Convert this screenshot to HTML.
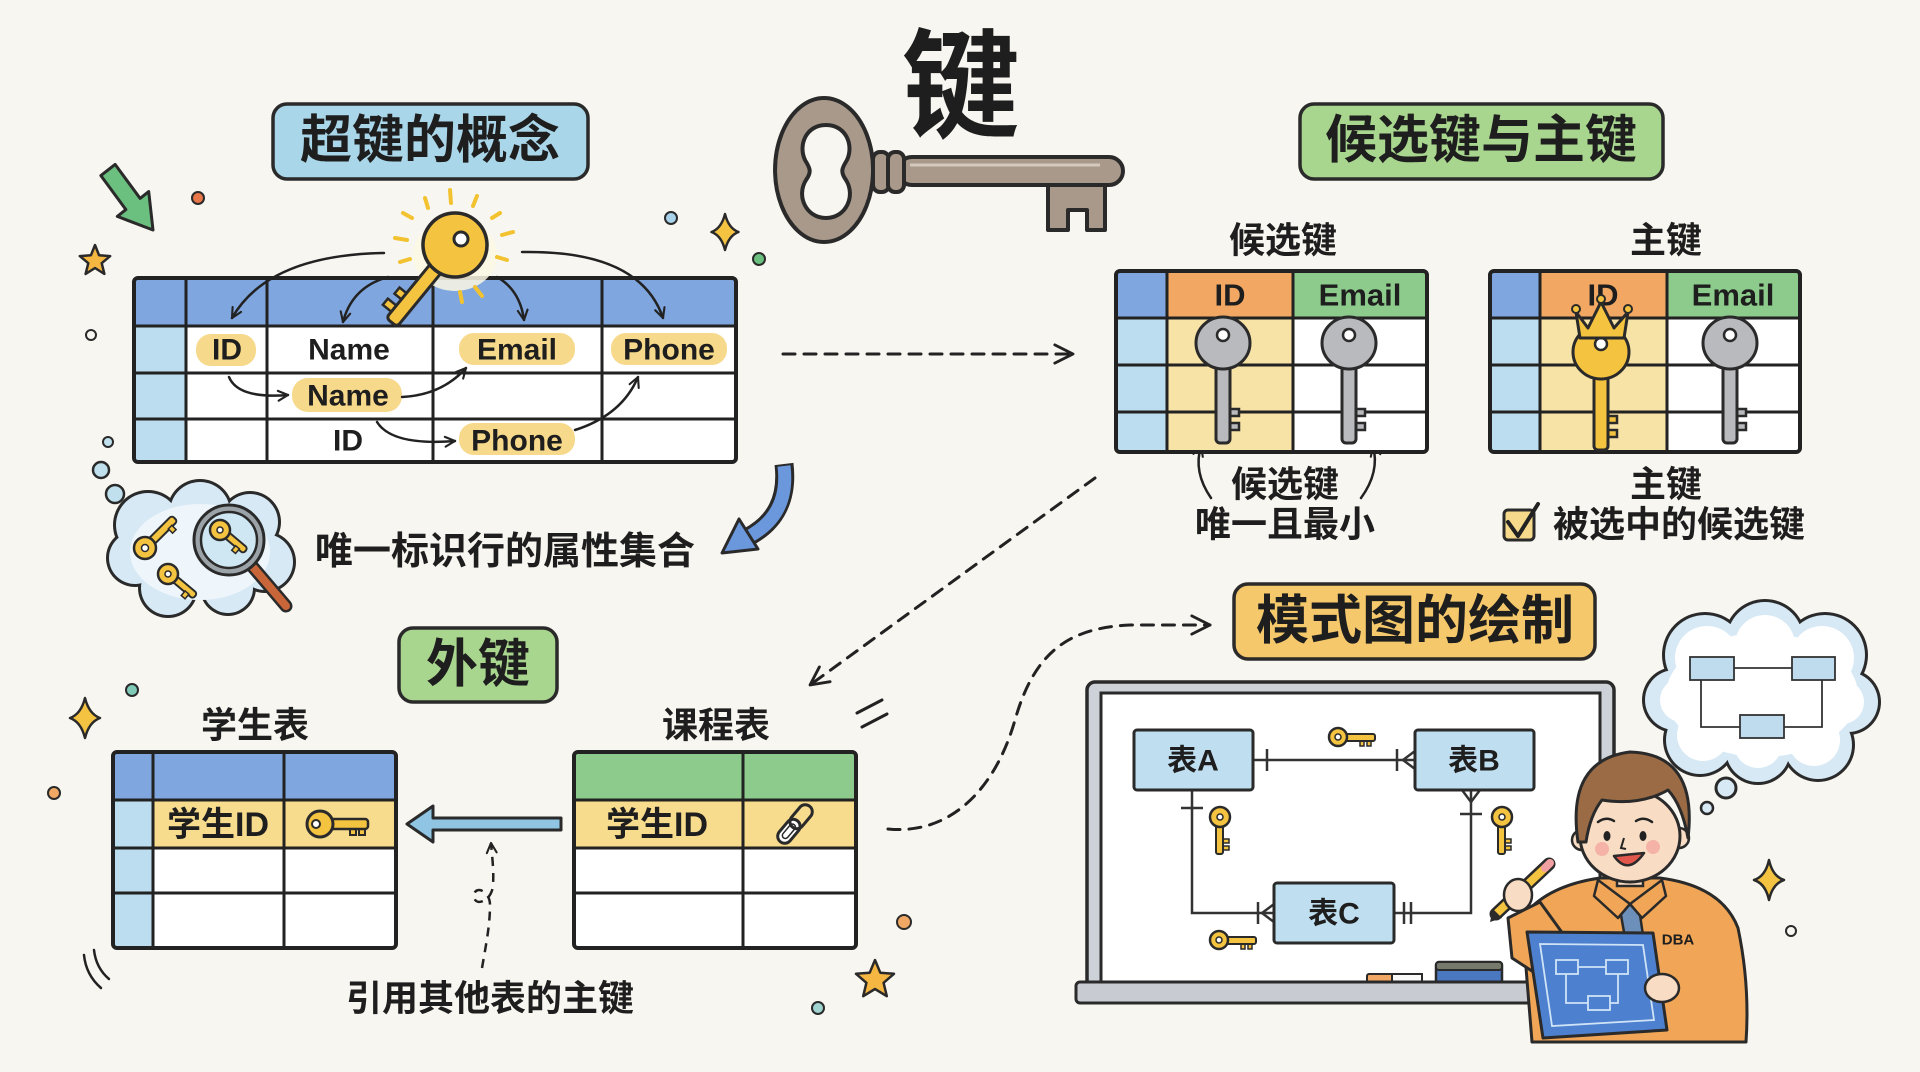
<!DOCTYPE html>
<html><head><meta charset="utf-8">
<style>
html,body{margin:0;padding:0;background:#f8f6f0;}
svg{display:block}
text{font-family:"Liberation Sans","Noto Sans CJK SC",sans-serif;font-weight:700;fill:#1e1e1e}
</style></head><body>
<svg width="1920" height="1072" viewBox="0 0 1920 1072" xmlns="http://www.w3.org/2000/svg">
<defs>
<marker id="ah" viewBox="0 0 20 20" refX="17" refY="10" markerWidth="14" markerHeight="14" orient="auto" markerUnits="userSpaceOnUse"><path d="M3,3 L17,10 L3,17" fill="none" stroke="#222" stroke-width="3" stroke-linecap="round" stroke-linejoin="round"/></marker>
<marker id="ahb" viewBox="0 0 20 20" refX="17" refY="10" markerWidth="26" markerHeight="26" orient="auto" markerUnits="userSpaceOnUse"><path d="M3,3 L17,10 L3,17" fill="none" stroke="#222" stroke-width="2.2" stroke-linecap="round" stroke-linejoin="round"/></marker>
</defs>
<rect width="1920" height="1072" fill="#f8f6f0"/>

<!-- Big title 键 and key -->
<text x="961" y="88" font-size="118" text-anchor="middle" dominant-baseline="central">键</text>
<path d="M824 98 A49 72 0 1 0 824.1 98 Z M826 125 C806 125 798 145 805 160 C810 168 812 172 806 180 C796 196 806 218 826 218 C846 218 856 196 846 180 C840 172 842 168 847 160 C854 145 846 125 826 125 Z" fill="#a8998a" fill-rule="evenodd" stroke="#2a2a2a" stroke-width="4"/>
<path d="M1048 180 L1105 180 L1105 230 L1087 230 L1087 210 L1068 210 L1068 230 L1048 230 Z" fill="#a8998a" stroke="#2a2a2a" stroke-width="4" stroke-linejoin="round"/>
<rect x="898" y="157" width="225" height="28" rx="14" fill="#a8998a" stroke="#2a2a2a" stroke-width="4"/>
<line x1="910" y1="165" x2="1100" y2="165" stroke="#d4c9bc" stroke-width="3"/>
<rect x="873" y="152" width="16" height="40" rx="7" fill="#a8998a" stroke="#2a2a2a" stroke-width="4"/>
<rect x="888" y="152" width="16" height="40" rx="7" fill="#a8998a" stroke="#2a2a2a" stroke-width="4"/>

<!-- Title: 超键的概念 -->
<rect x="273" y="104" width="315" height="75" rx="14" fill="#a9d6e9" stroke="#2a2a2a" stroke-width="3.5"/>
<text x="430" y="141" font-size="52" text-anchor="middle" dominant-baseline="central">超键的概念</text>

<!-- decorations top-left -->
<polygon points="115.1,164.4 140.1,198.4 148.7,191.6 153,230 117.3,216.4 125.9,209.6 100.9,175.6" fill="#6cc07f" stroke="#2a2a2a" stroke-width="3" stroke-linejoin="round"/>
<circle cx="198" cy="198" r="6" fill="#e8774a" stroke="#2a2a2a" stroke-width="2"/>
<path d="M95 245 L99.1 255.3 L110.2 256.1 L101.7 263.2 L104.4 273.9 L95 268 L85.6 273.9 L88.3 263.2 L79.8 256.1 L90.9 255.3 Z" fill="#f5b642" stroke="#2a2a2a" stroke-width="2.5" stroke-linejoin="round"/>
<circle cx="91" cy="335" r="5" fill="none" stroke="#2a2a2a" stroke-width="2"/>
<circle cx="671" cy="218" r="6" fill="#a9d3ea" stroke="#2a2a2a" stroke-width="2"/>
<circle cx="759" cy="259" r="6" fill="#6cc07f" stroke="#2a2a2a" stroke-width="2"/>
<path d="M725 214 Q728.6 228.4 738.5 232 Q728.6 235.6 725 250 Q721.4 235.6 711.5 232 Q721.4 228.4 725 214 Z" fill="#f5c342" stroke="#2a2a2a" stroke-width="2.5" stroke-linejoin="round"/>

<!-- Table 1 -->
<rect x="134" y="278" width="602" height="184" fill="#ffffff"/>
<rect x="134" y="278" width="602" height="48" fill="#7fa6de"/>
<rect x="134" y="326" width="52" height="136" fill="#bcdcef"/>
<g stroke="#222" stroke-width="3">
<line x1="134" y1="326" x2="736" y2="326"/><line x1="134" y1="373" x2="736" y2="373"/><line x1="134" y1="419" x2="736" y2="419"/>
<line x1="186" y1="278" x2="186" y2="462"/><line x1="267" y1="278" x2="267" y2="462"/><line x1="433" y1="278" x2="433" y2="462"/><line x1="602" y1="278" x2="602" y2="462"/>
</g>
<rect x="134" y="278" width="602" height="184" rx="4" fill="none" stroke="#222" stroke-width="4"/>
<g fill="#f6d98a">
<rect x="196" y="334" width="60" height="32" rx="15"/>
<rect x="459" y="333" width="116" height="32" rx="15"/>
<rect x="611" y="333" width="116" height="32" rx="15"/>
<rect x="292" y="378" width="110" height="34" rx="16"/>
<rect x="459" y="423" width="116" height="32" rx="15"/>
</g>
<g font-size="30" text-anchor="middle" dominant-baseline="central">
<text x="227" y="350">ID</text>
<text x="349" y="350">Name</text>
<text x="517" y="350">Email</text>
<text x="669" y="350">Phone</text>
<text x="348" y="396">Name</text>
<text x="348" y="441">ID</text>
<text x="517" y="441">Phone</text>
</g>
<g fill="none" stroke="#222" stroke-width="2.5" stroke-linecap="round" marker-end="url(#ah)">
<path d="M229 377 Q238 399 288 395"/>
<path d="M402 397 Q442 395 466 368"/>
<path d="M377 422 Q392 446 455 441"/>
<path d="M575 430 Q622 415 638 377"/>
<path d="M384 253 Q268 255 232 318"/>
<path d="M388 277 Q352 287 343 322"/>
<path d="M497 277 Q520 290 524 320"/>
<path d="M522 252 Q640 250 663 318"/>
</g>
<!-- golden key -->
<ellipse cx="455" cy="255" rx="42" ry="36" fill="#fdf8e4" opacity="0.85"/>
<g stroke="#f2c230" stroke-width="4" stroke-linecap="round">
<line x1="450" y1="190" x2="451" y2="203"/><line x1="425" y1="198" x2="428" y2="208"/><line x1="477" y1="196" x2="473" y2="206"/>
<line x1="403" y1="213" x2="412" y2="218"/><line x1="500" y1="213" x2="492" y2="218"/><line x1="395" y1="238" x2="407" y2="240"/>
<line x1="513" y1="232" x2="502" y2="235"/><line x1="400" y1="262" x2="410" y2="259"/><line x1="507" y1="260" x2="497" y2="257"/>
<line x1="460" y1="292" x2="462" y2="302"/><line x1="475" y1="287" x2="482" y2="296"/>
</g>
<g transform="translate(455,245) rotate(129.3)">
<rect x="68" y="5" width="8" height="11" fill="#f4c33f" stroke="#2a2a2a" stroke-width="2.5"/>
<rect x="84" y="5" width="8" height="13" fill="#f4c33f" stroke="#2a2a2a" stroke-width="2.5"/>
<rect x="24" y="-7" width="76" height="14" rx="4" fill="#f4c33f" stroke="#2a2a2a" stroke-width="3"/>
<circle cx="0" cy="0" r="32" fill="#f4c33f" stroke="#2a2a2a" stroke-width="3.5"/>
</g>
<circle cx="461" cy="239" r="7" fill="#fff" stroke="#2a2a2a" stroke-width="3"/>

<!-- thought bubbles left -->
<circle cx="108" cy="442" r="5" fill="#bfe0ec" stroke="#2a2a2a" stroke-width="2"/>
<circle cx="101" cy="470" r="8" fill="#bfe0ec" stroke="#2a2a2a" stroke-width="2.5"/>
<circle cx="115" cy="494" r="9" fill="#bfe0ec" stroke="#2a2a2a" stroke-width="2.5"/>
<g fill="#2a2a2a">
<circle cx="148" cy="525" r="35"/><circle cx="200" cy="512" r="33"/><circle cx="250" cy="522" r="31"/><circle cx="265" cy="562" r="31"/><circle cx="228" cy="588" r="28"/><circle cx="168" cy="588" r="30"/><circle cx="135" cy="558" r="29"/>
</g>
<g fill="#d6e9f5">
<circle cx="148" cy="525" r="32"/><circle cx="200" cy="512" r="30"/><circle cx="250" cy="522" r="28"/><circle cx="265" cy="562" r="28"/><circle cx="228" cy="588" r="25"/><circle cx="168" cy="588" r="27"/><circle cx="135" cy="558" r="26"/>
</g>
<ellipse cx="200" cy="552" rx="70" ry="48" fill="#eef6fb"/>
<g transform="translate(145,548) rotate(-45)"><rect x="8" y="-4" width="34" height="8" rx="3" fill="#f4c33f" stroke="#2a2a2a" stroke-width="2"/><rect x="30" y="3" width="5" height="6" fill="#f4c33f" stroke="#2a2a2a" stroke-width="1.5"/><circle r="11" fill="#f4c33f" stroke="#2a2a2a" stroke-width="2.5"/><circle r="3.5" fill="#fff" stroke="#2a2a2a" stroke-width="1.5"/></g>
<g transform="translate(168,574) rotate(40)"><rect x="7" y="-4" width="28" height="7" rx="3" fill="#f4c33f" stroke="#2a2a2a" stroke-width="2"/><rect x="24" y="2" width="5" height="6" fill="#f4c33f" stroke="#2a2a2a" stroke-width="1.5"/><circle r="10" fill="#f4c33f" stroke="#2a2a2a" stroke-width="2.5"/><circle r="3" fill="#fff" stroke="#2a2a2a" stroke-width="1.5"/></g>
<line x1="252" y1="566" x2="286" y2="606" stroke="#2a2a2a" stroke-width="13" stroke-linecap="round"/>
<line x1="252" y1="566" x2="286" y2="606" stroke="#c8663a" stroke-width="8" stroke-linecap="round"/>
<circle cx="229" cy="540" r="35" fill="#9ca3a8" stroke="#2a2a2a" stroke-width="3"/>
<circle cx="229" cy="540" r="28" fill="#cfe6f3" stroke="#2a2a2a" stroke-width="2.5"/>
<g transform="translate(220,530) rotate(40)"><rect x="7" y="-4" width="26" height="7" rx="3" fill="#f4c33f" stroke="#2a2a2a" stroke-width="2"/><rect x="22" y="2" width="5" height="6" fill="#f4c33f" stroke="#2a2a2a" stroke-width="1.5"/><circle r="10" fill="#f4c33f" stroke="#2a2a2a" stroke-width="2.5"/><circle r="3" fill="#fff" stroke="#2a2a2a" stroke-width="1.5"/></g>
<text x="505" y="552" font-size="38" text-anchor="middle" dominant-baseline="central">唯一标识行的属性集合</text>
<path d="M784 464 Q790 515 748 537" stroke="#2a2a2a" stroke-width="19" fill="none"/>
<path d="M784 466 Q790 515 748 537" stroke="#6b98dc" stroke-width="13" fill="none"/>
<polygon points="722,553 739,519 758,549" fill="#6b98dc" stroke="#2a2a2a" stroke-width="3" stroke-linejoin="round"/>

<!-- dashed arrows -->
<g fill="none" stroke="#222" stroke-width="3" stroke-dasharray="12 9" stroke-linecap="round" marker-end="url(#ahb)">
<path d="M783 354 L1073 354"/>
<path d="M1095 478 L810 685"/>
<path d="M888 829 C950 835 995 790 1015 720 C1035 650 1070 628 1130 625 L1210 625"/>
</g>

<!-- Title: 候选键与主键 -->
<rect x="1300" y="104" width="363" height="75" rx="14" fill="#a9d68e" stroke="#2a2a2a" stroke-width="3.5"/>
<text x="1481" y="141" font-size="52" text-anchor="middle" dominant-baseline="central">候选键与主键</text>
<g font-size="36" text-anchor="middle" dominant-baseline="central">
<text x="1283" y="240">候选键</text>
<text x="1666" y="240">主键</text>
<text x="1285" y="484">候选键</text>
<text x="1285" y="524">唯一且最小</text>
<text x="1666" y="484">主键</text>
<text x="1679" y="524">被选中的候选键</text>
</g>
<rect x="1504" y="510" width="30" height="30" rx="4" fill="#f6d98a" stroke="#2a2a2a" stroke-width="3"/>
<path d="M1508 522 L1518 536 L1538 504" fill="none" stroke="#222" stroke-width="4" stroke-linecap="round" stroke-linejoin="round"/>
<g fill="none" stroke="#222" stroke-width="2.5" stroke-linecap="round" marker-end="url(#ah)">
<path d="M1211 498 Q1193 472 1201 446"/>
<path d="M1361 498 Q1380 472 1373 446"/>
</g>

<!-- candidate table -->
<rect x="1116" y="271" width="311" height="181" fill="#fff"/>
<rect x="1116" y="271" width="51" height="47" fill="#7fa6de"/>
<rect x="1167" y="271" width="126" height="47" fill="#f2a862"/>
<rect x="1293" y="271" width="134" height="47" fill="#8ccb8c"/>
<rect x="1116" y="318" width="51" height="134" fill="#bcdcef"/>
<rect x="1167" y="318" width="126" height="134" fill="#f8e3a6"/>
<g stroke="#222" stroke-width="3">
<line x1="1116" y1="318" x2="1427" y2="318"/><line x1="1116" y1="365" x2="1427" y2="365"/><line x1="1116" y1="412" x2="1427" y2="412"/>
<line x1="1167" y1="271" x2="1167" y2="452"/><line x1="1293" y1="271" x2="1293" y2="452"/>
</g>
<rect x="1116" y="271" width="311" height="181" rx="4" fill="none" stroke="#222" stroke-width="4"/>
<g font-size="31" text-anchor="middle" dominant-baseline="central">
<text x="1230" y="295">ID</text><text x="1360" y="295">Email</text>
</g>
<!-- primary table -->
<rect x="1490" y="271" width="310" height="181" fill="#fff"/>
<rect x="1490" y="271" width="50" height="47" fill="#7fa6de"/>
<rect x="1540" y="271" width="127" height="47" fill="#f2a862"/>
<rect x="1667" y="271" width="133" height="47" fill="#8ccb8c"/>
<rect x="1490" y="318" width="50" height="134" fill="#bcdcef"/>
<rect x="1540" y="318" width="127" height="134" fill="#f8e3a6"/>
<g stroke="#222" stroke-width="3">
<line x1="1490" y1="318" x2="1800" y2="318"/><line x1="1490" y1="365" x2="1800" y2="365"/><line x1="1490" y1="412" x2="1800" y2="412"/>
<line x1="1540" y1="271" x2="1540" y2="452"/><line x1="1667" y1="271" x2="1667" y2="452"/>
</g>
<rect x="1490" y="271" width="310" height="181" rx="4" fill="none" stroke="#222" stroke-width="4"/>
<g font-size="31" text-anchor="middle" dominant-baseline="central">
<text x="1603" y="295">ID</text><text x="1733" y="295">Email</text>
</g>
<!-- keys -->
<g transform="translate(1223,343)">
<rect x="5" y="66" width="11" height="7" fill="#b9babe" stroke="#2a2a2a" stroke-width="2.5"/><rect x="5" y="80" width="11" height="7" fill="#b9babe" stroke="#2a2a2a" stroke-width="2.5"/>
<rect x="-7" y="18" width="14" height="82" rx="4" fill="#b9babe" stroke="#2a2a2a" stroke-width="3"/>
<ellipse rx="27" ry="26" fill="#b9babe" stroke="#2a2a2a" stroke-width="3"/>
<circle cy="-8" r="6" fill="#fff" stroke="#2a2a2a" stroke-width="2.5"/>
</g>
<g transform="translate(1349,343)">
<rect x="5" y="66" width="11" height="7" fill="#b9babe" stroke="#2a2a2a" stroke-width="2.5"/><rect x="5" y="80" width="11" height="7" fill="#b9babe" stroke="#2a2a2a" stroke-width="2.5"/>
<rect x="-7" y="18" width="14" height="82" rx="4" fill="#b9babe" stroke="#2a2a2a" stroke-width="3"/>
<ellipse rx="27" ry="26" fill="#b9babe" stroke="#2a2a2a" stroke-width="3"/>
<circle cy="-8" r="6" fill="#fff" stroke="#2a2a2a" stroke-width="2.5"/>
</g>
<g transform="translate(1730,343)">
<rect x="5" y="66" width="11" height="7" fill="#b9babe" stroke="#2a2a2a" stroke-width="2.5"/><rect x="5" y="80" width="11" height="7" fill="#b9babe" stroke="#2a2a2a" stroke-width="2.5"/>
<rect x="-7" y="18" width="14" height="82" rx="4" fill="#b9babe" stroke="#2a2a2a" stroke-width="3"/>
<ellipse rx="27" ry="26" fill="#b9babe" stroke="#2a2a2a" stroke-width="3"/>
<circle cy="-8" r="6" fill="#fff" stroke="#2a2a2a" stroke-width="2.5"/>
</g>
<g transform="translate(1601,352)">
<rect x="5" y="64" width="11" height="7" fill="#f4c33f" stroke="#2a2a2a" stroke-width="2.5"/><rect x="5" y="78" width="11" height="7" fill="#f4c33f" stroke="#2a2a2a" stroke-width="2.5"/>
<rect x="-7" y="18" width="14" height="80" rx="4" fill="#f4c33f" stroke="#2a2a2a" stroke-width="3"/>
<ellipse rx="28" ry="27" fill="#f4c33f" stroke="#2a2a2a" stroke-width="3"/>
<circle cy="-8" r="6" fill="#fff" stroke="#2a2a2a" stroke-width="2.5"/>
</g>
<path d="M1576 312 L1588 328 L1601 302 L1614 328 L1628 312 L1624 338 L1580 338 Z" fill="#f4c33f" stroke="#2a2a2a" stroke-width="3" stroke-linejoin="round"/>
<circle cx="1576" cy="309" r="4" fill="#f4c33f" stroke="#2a2a2a" stroke-width="2"/>
<circle cx="1601" cy="299" r="4" fill="#f4c33f" stroke="#2a2a2a" stroke-width="2"/>
<circle cx="1628" cy="309" r="4" fill="#f4c33f" stroke="#2a2a2a" stroke-width="2"/>

<!-- Title: 外键 -->
<rect x="399" y="628" width="158" height="74" rx="14" fill="#a9d68e" stroke="#2a2a2a" stroke-width="3.5"/>
<text x="478" y="665" font-size="52" text-anchor="middle" dominant-baseline="central">外键</text>
<g font-size="36" text-anchor="middle" dominant-baseline="central">
<text x="255" y="725">学生表</text>
<text x="716" y="725">课程表</text>
<text x="490" y="998">引用其他表的主键</text>
</g>
<!-- student table -->
<rect x="113" y="752" width="283" height="196" fill="#fff"/>
<rect x="113" y="752" width="283" height="48" fill="#7fa6de"/>
<rect x="113" y="800" width="40" height="148" fill="#bcdcef"/>
<rect x="153" y="800" width="243" height="48" fill="#f7dc8e"/>
<g stroke="#222" stroke-width="3">
<line x1="113" y1="800" x2="396" y2="800"/><line x1="113" y1="848" x2="396" y2="848"/><line x1="113" y1="893" x2="396" y2="893"/>
<line x1="153" y1="752" x2="153" y2="948"/><line x1="284" y1="752" x2="284" y2="948"/>
</g>
<rect x="113" y="752" width="283" height="196" rx="4" fill="none" stroke="#222" stroke-width="4"/>
<text x="218" y="825" font-size="34" text-anchor="middle" dominant-baseline="central">学生ID</text>
<g>
<rect x="350" y="826" width="6" height="9" fill="#f4c33f" stroke="#2a2a2a" stroke-width="2"/><rect x="359" y="826" width="6" height="9" fill="#f4c33f" stroke="#2a2a2a" stroke-width="2"/>
<rect x="326" y="819" width="42" height="10" rx="3" fill="#f4c33f" stroke="#2a2a2a" stroke-width="2.5"/>
<circle cx="320" cy="824" r="13" fill="#f4c33f" stroke="#2a2a2a" stroke-width="3"/>
<circle cx="316" cy="824" r="4" fill="#fff" stroke="#2a2a2a" stroke-width="2"/>
</g>
<!-- course table -->
<rect x="574" y="752" width="282" height="196" fill="#fff"/>
<rect x="574" y="752" width="282" height="48" fill="#8ccb8c"/>
<rect x="574" y="800" width="282" height="48" fill="#f7dc8e"/>
<g stroke="#222" stroke-width="3">
<line x1="574" y1="800" x2="856" y2="800"/><line x1="574" y1="848" x2="856" y2="848"/><line x1="574" y1="893" x2="856" y2="893"/>
<line x1="743" y1="752" x2="743" y2="948"/>
</g>
<rect x="574" y="752" width="282" height="196" rx="4" fill="none" stroke="#222" stroke-width="4"/>
<text x="657" y="825" font-size="34" text-anchor="middle" dominant-baseline="central">学生ID</text>
<g transform="rotate(-50 795 824)" stroke="#2a2a2a" stroke-width="3">
<rect x="772" y="817" width="27" height="14" rx="7" fill="#fff"/>
<rect x="791" y="817" width="27" height="14" rx="7" fill="none"/>
<rect x="777" y="821" width="17" height="6" rx="3" fill="none" stroke-width="1.5"/>
</g>
<path d="M561 818 L433 818 L433 806 L407 824 L433 842 L433 830 L561 830 Z" fill="#8fc4e2" stroke="#2a2a2a" stroke-width="3" stroke-linejoin="round"/>
<path d="M482 968 C486 945 490 925 490 905 C490 890 474 885 474 896 C474 907 492 902 493 885 C494 870 492 856 491 843" fill="none" stroke="#222" stroke-width="2.5" stroke-dasharray="9 7" marker-end="url(#ah)"/>
<!-- decorations lower left -->
<circle cx="132" cy="690" r="6" fill="#7fcbb8" stroke="#2a2a2a" stroke-width="2"/>
<path d="M85 698 Q89 714 100 718 Q89 722 85 738 Q81 722 70 718 Q81 714 85 698 Z" fill="#f5c342" stroke="#2a2a2a" stroke-width="2.5" stroke-linejoin="round"/>
<circle cx="54" cy="793" r="6" fill="#f0a864" stroke="#2a2a2a" stroke-width="2"/>
<path d="M84 955 Q86 975 101 988 M94 950 Q96 968 109 979" fill="none" stroke="#222" stroke-width="2.5" stroke-linecap="round"/>
<path d="M857 713 L882 700 M862 727 L887 714" stroke="#222" stroke-width="3" stroke-linecap="round"/>
<circle cx="904" cy="922" r="7" fill="#f0a864" stroke="#2a2a2a" stroke-width="2"/>
<path d="M875 960 L880.3 972.7 L894 973.8 L883.6 982.8 L886.8 996.2 L875 989 L863.2 996.2 L866.4 982.8 L856 973.8 L869.7 972.7 Z" fill="#f5b642" stroke="#2a2a2a" stroke-width="2.5" stroke-linejoin="round"/>
<circle cx="818" cy="1008" r="6" fill="#9fd4d0" stroke="#2a2a2a" stroke-width="2"/>

<!-- Title: 模式图的绘制 -->
<rect x="1234" y="584" width="361" height="75" rx="14" fill="#f5c96b" stroke="#2a2a2a" stroke-width="3.5"/>
<text x="1415" y="621" font-size="53" text-anchor="middle" dominant-baseline="central">模式图的绘制</text>

<!-- whiteboard -->
<rect x="1087" y="682" width="527" height="308" rx="8" fill="#cdd2d8" stroke="#2a2a2a" stroke-width="3.5"/>
<rect x="1101" y="693" width="499" height="289" fill="#ffffff" stroke="#2a2a2a" stroke-width="3"/>
<rect x="1367" y="974" width="55" height="10" rx="2" fill="#f0a864" stroke="#2a2a2a" stroke-width="2"/>
<rect x="1392" y="974" width="30" height="10" fill="#fafafa" stroke="#2a2a2a" stroke-width="2"/>
<rect x="1436" y="962" width="66" height="22" rx="3" fill="#4a78c0" stroke="#2a2a2a" stroke-width="2.5"/>
<rect x="1436" y="962" width="66" height="8" rx="3" fill="#757a6c" stroke="#2a2a2a" stroke-width="2"/>
<rect x="1076" y="982" width="464" height="21" rx="4" fill="#c8ccd2" stroke="#2a2a2a" stroke-width="3"/>
<g fill="none" stroke="#333" stroke-width="2.5">
<line x1="1253" y1="760" x2="1415" y2="760"/>
<line x1="1267" y1="749" x2="1267" y2="771"/>
<line x1="1397" y1="749" x2="1397" y2="771"/>
<path d="M1403 760 L1415 751 M1403 760 L1415 769"/>
<path d="M1192 790 L1192 913 L1274 913"/>
<line x1="1181" y1="808" x2="1203" y2="808"/>
<line x1="1258" y1="902" x2="1258" y2="924"/>
<path d="M1262 913 L1274 904 M1262 913 L1274 922"/>
<path d="M1471 790 L1471 913 L1394 913"/>
<path d="M1471 802 L1462 790 M1471 802 L1480 790"/>
<line x1="1460" y1="814" x2="1482" y2="814"/>
<line x1="1404" y1="902" x2="1404" y2="924"/><line x1="1411" y1="902" x2="1411" y2="924"/>
</g>
<g fill="#bfdff0" stroke="#2a2a2a" stroke-width="3">
<rect x="1134" y="730" width="119" height="60" rx="3"/>
<rect x="1415" y="730" width="119" height="60" rx="3"/>
<rect x="1274" y="883" width="120" height="60" rx="3"/>
</g>
<g font-size="30" text-anchor="middle" dominant-baseline="central">
<text x="1193" y="761">表A</text><text x="1474" y="761">表B</text><text x="1334" y="914">表C</text>
</g>
<g transform="translate(1338,737)"><rect x="22" y="3" width="4" height="6" fill="#f4c33f" stroke="#2a2a2a" stroke-width="1.5"/><rect x="29" y="3" width="4" height="6" fill="#f4c33f" stroke="#2a2a2a" stroke-width="1.5"/><rect x="7" y="-3" width="30" height="7" rx="2" fill="#f4c33f" stroke="#2a2a2a" stroke-width="2"/><circle r="9" fill="#f4c33f" stroke="#2a2a2a" stroke-width="2.5"/><circle r="3" fill="#fff" stroke="#2a2a2a" stroke-width="1.5"/></g>
<g transform="translate(1219,940)"><rect x="22" y="3" width="4" height="6" fill="#f4c33f" stroke="#2a2a2a" stroke-width="1.5"/><rect x="29" y="3" width="4" height="6" fill="#f4c33f" stroke="#2a2a2a" stroke-width="1.5"/><rect x="7" y="-3" width="30" height="7" rx="2" fill="#f4c33f" stroke="#2a2a2a" stroke-width="2"/><circle r="9" fill="#f4c33f" stroke="#2a2a2a" stroke-width="2.5"/><circle r="3" fill="#fff" stroke="#2a2a2a" stroke-width="1.5"/></g>
<g transform="translate(1220,817) rotate(90)"><rect x="22" y="-9" width="4" height="6" fill="#f4c33f" stroke="#2a2a2a" stroke-width="1.5"/><rect x="29" y="-9" width="4" height="6" fill="#f4c33f" stroke="#2a2a2a" stroke-width="1.5"/><rect x="7" y="-3" width="30" height="7" rx="2" fill="#f4c33f" stroke="#2a2a2a" stroke-width="2"/><circle r="10" fill="#f4c33f" stroke="#2a2a2a" stroke-width="2.5"/><circle r="3" fill="#fff" stroke="#2a2a2a" stroke-width="1.5"/></g>
<g transform="translate(1502,817) rotate(90)"><rect x="22" y="-9" width="4" height="6" fill="#f4c33f" stroke="#2a2a2a" stroke-width="1.5"/><rect x="29" y="-9" width="4" height="6" fill="#f4c33f" stroke="#2a2a2a" stroke-width="1.5"/><rect x="7" y="-3" width="30" height="7" rx="2" fill="#f4c33f" stroke="#2a2a2a" stroke-width="2"/><circle r="10" fill="#f4c33f" stroke="#2a2a2a" stroke-width="2.5"/><circle r="3" fill="#fff" stroke="#2a2a2a" stroke-width="1.5"/></g>

<!-- thought cloud -->
<g fill="#2a2a2a">
<circle cx="1705" cy="655" r="43"/><circle cx="1765" cy="640" r="41"/><circle cx="1825" cy="655" r="43"/><circle cx="1848" cy="702" r="33"/><circle cx="1818" cy="745" r="37"/><circle cx="1758" cy="750" r="35"/><circle cx="1700" cy="740" r="37"/><circle cx="1675" cy="700" r="33"/>
</g>
<g fill="#d6e9f5">
<circle cx="1705" cy="655" r="40"/><circle cx="1765" cy="640" r="38"/><circle cx="1825" cy="655" r="40"/><circle cx="1848" cy="702" r="30"/><circle cx="1818" cy="745" r="34"/><circle cx="1758" cy="750" r="32"/><circle cx="1700" cy="740" r="34"/><circle cx="1675" cy="700" r="30"/>
</g>
<g fill="#ffffff">
<circle cx="1707" cy="658" r="32"/><circle cx="1765" cy="645" r="30"/><circle cx="1822" cy="658" r="32"/><circle cx="1842" cy="702" r="22"/><circle cx="1814" cy="740" r="26"/><circle cx="1758" cy="744" r="24"/><circle cx="1703" cy="735" r="26"/><circle cx="1682" cy="700" r="22"/>
<ellipse cx="1762" cy="695" rx="96" ry="62"/>
</g>
<g fill="none" stroke="#333" stroke-width="1.8">
<line x1="1734" y1="668" x2="1792" y2="668"/>
<path d="M1701 680 L1701 727 L1740 727"/>
<path d="M1822 680 L1822 727 L1784 727"/>
</g>
<g fill="#bfdcee" stroke="#333" stroke-width="1.8">
<rect x="1690" y="657" width="44" height="23"/><rect x="1792" y="657" width="43" height="23"/><rect x="1740" y="715" width="44" height="23"/>
</g>
<circle cx="1726" cy="788" r="10" fill="#d6e9f5" stroke="#2a2a2a" stroke-width="3"/>
<circle cx="1707" cy="808" r="6" fill="#d6e9f5" stroke="#2a2a2a" stroke-width="2.5"/>
<path d="M1769 860 Q1772.6 876.4 1784 880 Q1772.6 883.6 1769 900 Q1765.4 883.6 1754 880 Q1765.4 876.4 1769 860 Z" fill="#f5c342" stroke="#2a2a2a" stroke-width="2.5" stroke-linejoin="round"/>
<circle cx="1791" cy="931" r="5" fill="none" stroke="#2a2a2a" stroke-width="2"/>

<!-- person -->
<path d="M1522 918 Q1545 886 1600 878 L1660 878 Q1722 886 1738 928 Q1750 985 1746 1042 L1532 1042 Z" fill="#f0a656" stroke="#2a2a2a" stroke-width="3" stroke-linejoin="round"/>
<rect x="1617" y="866" width="26" height="20" fill="#f8dcc4" stroke="#2a2a2a" stroke-width="2.5"/>
<path d="M1624 905 L1636 905 L1640 915 L1647 962 L1631 972 L1621 915 Z" fill="#6d90bb" stroke="#2a2a2a" stroke-width="2.5" stroke-linejoin="round"/>
<path d="M1598 880 L1630 904 L1618 918 L1594 896 Z" fill="#f0a656" stroke="#2a2a2a" stroke-width="2.5" stroke-linejoin="round"/>
<path d="M1662 880 L1630 904 L1642 918 L1666 896 Z" fill="#f0a656" stroke="#2a2a2a" stroke-width="2.5" stroke-linejoin="round"/>
<text x="1678" y="940" font-size="15" text-anchor="middle" dominant-baseline="central">DBA</text>
<path d="M1508 918 L1540 902 L1566 938 L1538 975 L1512 958 Z" fill="#f0a656" stroke="#2a2a2a" stroke-width="3" stroke-linejoin="round"/>
<line x1="1496" y1="914" x2="1549" y2="864" stroke="#2a2a2a" stroke-width="13" stroke-linecap="round"/>
<line x1="1496" y1="914" x2="1546" y2="867" stroke="#f4c33f" stroke-width="8"/>
<line x1="1545" y1="868" x2="1550" y2="863" stroke="#f0a0a0" stroke-width="8" stroke-linecap="round"/>
<polygon points="1490,922 1493,909 1502,918" fill="#2a2a2a"/>
<ellipse cx="1518" cy="895" rx="14" ry="16" fill="#f8dcc4" stroke="#2a2a2a" stroke-width="2.5"/>
<polygon points="1527,932 1653,933 1667,1030 1543,1038" fill="#4d80cf" stroke="#2a2a2a" stroke-width="3" stroke-linejoin="round"/>
<polygon points="1540,944 1643,945 1654,1020 1552,1026" fill="none" stroke="#cfe3f7" stroke-width="1.8"/>
<g fill="none" stroke="#cfe3f7" stroke-width="1.8">
<rect x="1556" y="960" width="22" height="14"/><rect x="1606" y="960" width="22" height="14"/><rect x="1588" y="996" width="22" height="14"/>
<path d="M1578 967 L1606 967 M1566 974 L1566 1003 L1588 1003 M1618 974 L1618 1003 L1610 1003"/>
</g>
<ellipse cx="1662" cy="988" rx="17" ry="14" fill="#f8dcc4" stroke="#2a2a2a" stroke-width="2.5"/>
<circle cx="1582" cy="840" r="10" fill="#f8dcc4" stroke="#2a2a2a" stroke-width="2.5"/>
<circle cx="1679" cy="838" r="10" fill="#f8dcc4" stroke="#2a2a2a" stroke-width="2.5"/>
<ellipse cx="1630" cy="836" rx="50" ry="46" fill="#f8dcc4" stroke="#2a2a2a" stroke-width="3"/>
<path d="M1578 842 Q1566 760 1630 752 Q1698 754 1688 838 Q1682 805 1668 790 Q1640 806 1602 800 Q1590 815 1586 842 Z" fill="#9a6b45" stroke="#2a2a2a" stroke-width="3" stroke-linejoin="round"/>
<ellipse cx="1607" cy="836" rx="3.5" ry="5" fill="#222"/>
<ellipse cx="1643" cy="836" rx="3.5" ry="5" fill="#222"/>
<path d="M1598 822 Q1606 816 1614 821 M1636 821 Q1644 816 1652 822" fill="none" stroke="#222" stroke-width="2.5" stroke-linecap="round"/>
<circle cx="1602" cy="849" r="7" fill="#f4a9a0" opacity="0.8"/>
<circle cx="1653" cy="847" r="7" fill="#f4a9a0" opacity="0.8"/>
<path d="M1624 838 L1621 848 L1626 849" fill="none" stroke="#222" stroke-width="2"/>
<path d="M1614 856 Q1628 876 1644 853 Z" fill="#e2574c" stroke="#2a2a2a" stroke-width="2.5" stroke-linejoin="round"/>
</svg>
</body></html>
